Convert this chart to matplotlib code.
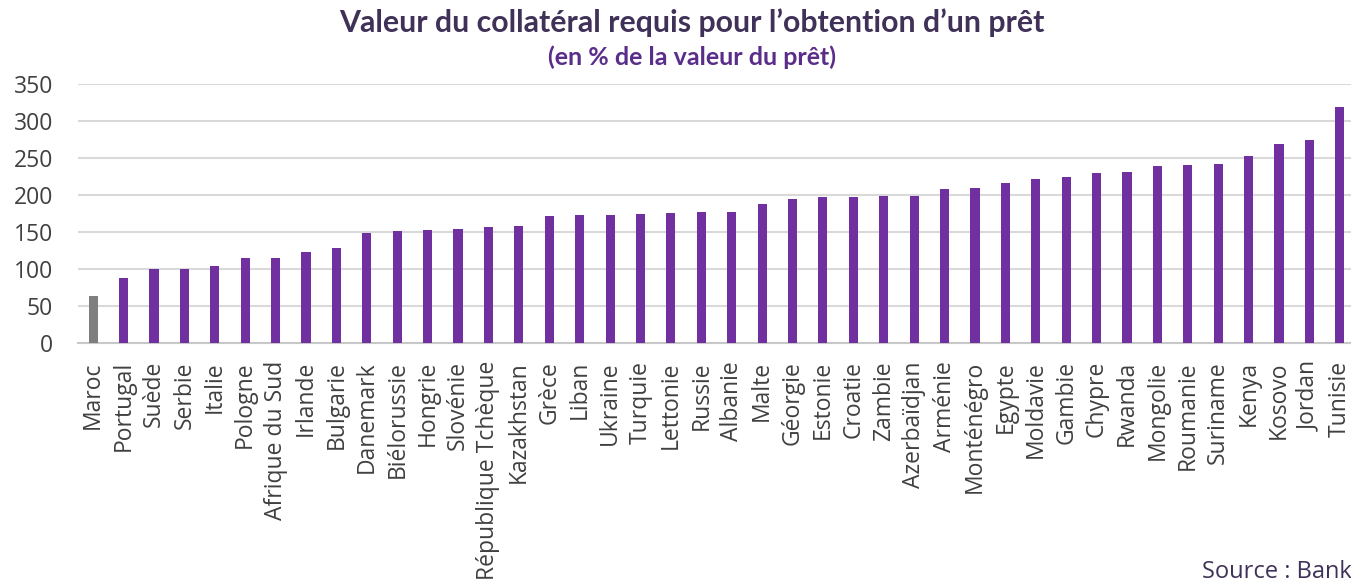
import matplotlib
matplotlib.use("Agg")
import matplotlib.pyplot as plt

countries = ["Maroc", "Portugal", "Suède", "Serbie", "Italie", "Pologne", "Afrique du Sud",
             "Irlande", "Bulgarie", "Danemark", "Biélorussie", "Hongrie", "Slovénie",
             "République Tchèque", "Kazakhstan", "Grèce", "Liban", "Ukraine", "Turquie",
             "Lettonie", "Russie", "Albanie", "Malte", "Géorgie", "Estonie", "Croatie",
             "Zambie", "Azerbaïdjan", "Arménie", "Monténégro", "Egypte", "Moldavie",
             "Gambie", "Chypre", "Rwanda", "Mongolie", "Roumanie", "Suriname", "Kenya",
             "Kosovo", "Jordan", "Tunisie"]
values = [63, 87.5, 100, 100.6, 104.6, 114.6, 114.6, 123, 128, 149.3, 151, 153.3, 154.7,
          157.4, 158, 171, 172.7, 173.2, 174.1, 176, 176.8, 177.2, 188.5, 194, 197, 197.1,
          198.4, 198.4, 207.5, 208.8, 215.6, 221.4, 224, 230, 231.4, 238.6, 240, 241.7,
          253, 268.8, 273.8, 319.3]
highlight = "Maroc"
yticks = [0, 50, 100, 150, 200, 250, 300, 350]

title = "Valeur du collatéral requis pour l\u2019obtention d\u2019un prêt"
subtitle = "(en % de la valeur du prêt)"
source = "Source : Bank Al-Maghrib"

W, H = 1351, 579
fig = plt.figure(figsize=(W / 100, H / 100), dpi=100)
fig.patch.set_facecolor("white")
ax = fig.add_axes([78 / W, (H - 343) / H, (1355 - 78) / W, (343 - 84) / H])
ax.set_facecolor("none")

colors = ["#7f7f7f" if c == highlight else "#7030a0" for c in countries]
x = range(len(countries))
ax.bar(x, values, width=0.3, color=colors, zorder=3)

ax.set_xlim(-0.5, len(countries) - 0.5)
ax.set_ylim(0, 350)
ax.set_yticks(yticks)
ax.set_xticks(list(x))
ax.set_xticklabels(countries, rotation=90, fontsize=16.5, color="#404040",
                   family="Open Sans", va="top", ha="center")
ax.tick_params(axis="x", length=0, pad=13)
ax.tick_params(axis="y", length=0, pad=18, labelsize=16.5, labelcolor="#404040")
for lab in ax.get_yticklabels():
    lab.set_family("Open Sans")

ax.grid(axis="y", color="#d9d9d9", linewidth=1.5, zorder=0)
ax.set_axisbelow(True)
for s in ["top", "right", "left"]:
    ax.spines[s].set_visible(False)
ax.spines["bottom"].set_color("#c8c8c8")
ax.spines["bottom"].set_linewidth(1.5)

fig.text(692 / W, 1 - 23 / H, title, ha="center", va="center", fontsize=21.8,
         fontweight="bold", color="#403158", family="Lato")
fig.text(692 / W, 1 - 57 / H, subtitle, ha="center", va="center", fontsize=18,
         fontweight="bold", color="#5a2d8a", family="Lato")
fig.text(1202 / W, 1 - 560 / H, source, ha="left", va="top", fontsize=17,
         color="#403158", family="Open Sans")

fig.savefig("out.png", dpi=100, facecolor="white")
